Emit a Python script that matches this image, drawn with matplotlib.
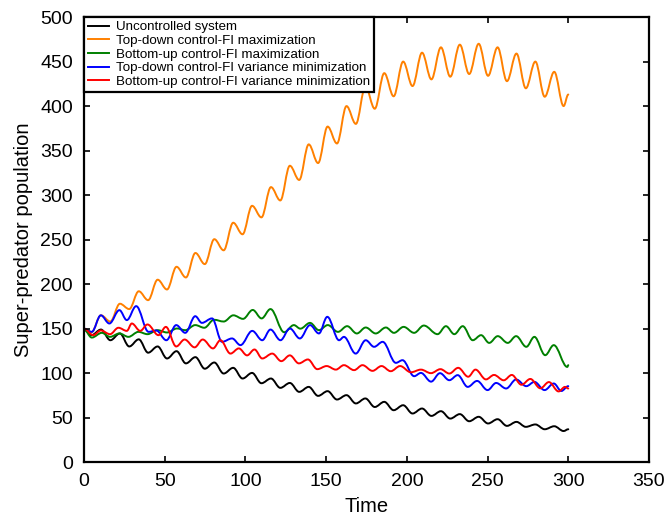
import matplotlib.pyplot as plt
from matplotlib.path import Path
from matplotlib.patches import PathPatch

# time points of the oscillation extrema (shared by the uncontrolled and top-down FI max runs)
t_osc = [0, 4.6, 10.5, 16.3, 22.2, 28, 33.9, 39.7, 45.6, 51.4, 57.3, 63.1, 69, 74.8,
         80.7, 86.5, 92.4, 98.2, 104.1, 109.9, 115.8, 121.6, 127.5, 133.3, 139.2, 145,
         150.9, 156.7, 162.6, 168.4, 174.3, 180.1, 186, 191.8, 197.7, 203.5, 209.4, 215.2,
         221.1, 226.9, 232.8, 238.6, 244.5, 250.3, 256.2, 262, 267.9, 273.7, 279.6, 285.4,
         291.3, 297.1, 300]

uncontrolled = [149, 142.7, 149, 137, 144.6, 130, 138, 123, 130, 116.5, 124.7, 111, 118, 105,
                112, 99.6, 106, 94, 100.3, 88.7, 94, 83.5, 89, 79, 84.6, 74.5,
                79.8, 70.4, 75.3, 66, 71.6, 62, 67.8, 58.4, 64, 54.7, 60.3, 52,
                57.3, 49, 54, 46, 51, 43.5, 48.3, 40.8, 45.3, 39.7, 42.4, 37,
                40.4, 35, 37]

topdown_fi_max = [149, 146, 165, 158, 178, 172, 192, 182, 205, 194, 219.5, 207.5, 235, 222.5,
                  250.5, 238, 269, 256, 288, 275, 309, 294, 333, 317, 357, 336,
                  377, 358, 400, 380, 422, 397, 437, 411, 450, 422.5, 460, 430,
                  466, 433, 469, 436, 470, 434, 466, 428, 459, 420, 450, 410.5,
                  438.5, 400, 413]

t_bu_max = [0, 4.8, 11, 16.1, 21.9, 27.5, 33.7, 39.3, 45.5, 51.4, 57.6, 62.7, 68.9, 74.5,
            80.5, 86.5, 92.5, 98.5, 104.5, 110, 115.5, 124, 130, 134, 140, 145.5, 151,
            157.3, 163, 169, 174.5, 180.7, 187, 192, 198, 204.5, 210.5, 219, 224.2, 229.4,
            234.6, 240.8, 246, 251, 256.3, 262.5, 267.7, 274, 279, 285.7, 291, 299.4, 300]
bottomup_fi_max = [149, 140, 145.3, 140.8, 144.6, 140.8, 146.4, 143.8, 148.3, 145.7, 150.2, 148.3, 154, 151,
                   160, 158, 165, 161, 171, 161.5, 172, 146, 154, 150, 156.5, 148.3, 154,
                   146.4, 152.8, 144.6, 151.3, 144.6, 151.3, 145.3, 152, 145.3, 153.5, 143.8, 152.8, 143.8,
                   152.8, 137, 142.7, 134, 141.6, 134, 141.6, 129.6, 140.8, 120.2, 131.5, 107, 109]

t_td_var = [0, 4.8, 10.4, 15.7, 21.9, 26.5, 32.3, 40, 44.7, 51, 57.1, 62.7, 68.9, 73, 79.3,
            85.5, 91.7, 96.9, 104.2, 110.4, 115.5, 121.7, 127.5, 133.7, 140, 145.5, 150.7,
            158, 161, 168.3, 174.5, 179.7, 185, 193.2, 197.3, 204.5, 208.7, 215, 220.5,
            226.3, 231.5, 237.7, 243.5, 250, 255.3, 261.5, 267.7, 274, 279, 285.3, 291,
            295.7, 300]
topdown_fi_var = [150, 146.4, 165, 155.8, 170.8, 159.6, 175.3, 146.4, 148, 137, 154, 145.3, 164, 156.5, 161.5,
                  135.2, 139, 131.5, 147.5, 137, 149, 137, 150.2, 139, 154, 144.6, 163.3,
                  137, 140.8, 122, 137, 129.6, 135.2, 111.6, 114.6, 96.6, 100.3, 90.5, 100,
                  92.1, 97.8, 84.6, 91.3, 81, 89, 82.8, 92.9, 85.4, 90.2, 81, 88.4,
                  80, 85.4]

t_bu_var = [0, 5.7, 10.4, 16.1, 21.3, 26.5, 29.6, 34.8, 39.3, 46.1, 50.7, 57.1, 62.3, 68.5,
            73.5, 79.9, 84.5, 90.7, 95.9, 101, 105.6, 110.4, 116.6, 122.2, 127.5, 133.1,
            138.7, 144.5, 150.3, 156, 161, 167.3, 172.5, 178.7, 184.3, 190, 195.8, 202.5,
            208.7, 214.9, 220.8, 226.3, 231.8, 238, 242.5, 249, 254, 260, 265, 271, 276.5,
            282.7, 288, 294, 298, 300]
bottomup_fi_var = [150, 142.7, 148, 143.8, 151, 147.5, 155.8, 147.5, 154.7, 142.7, 152, 130, 137.8, 129,
                   137.8, 127.8, 137, 122, 127.8, 120, 126.6, 116.5, 122, 113.5, 120, 111,
                   115.4, 104.5, 108, 104, 109, 103.4, 109, 102.6, 108, 102.2, 108, 101,
                   104, 100, 104.5, 99.6, 106, 96, 104, 93, 98, 92, 98, 87, 93.5,
                   83, 90, 79.5, 84.6, 82.8]

labels = ['Uncontrolled system',
          'Top-down control-FI maximization',
          'Bottom-up control-FI maximization',
          'Top-down control-FI variance minimization',
          'Bottom-up control-FI variance minimization']
colors = ['black', '#ff8000', '#008000', '#0000ff', '#ff0000']


def extrema_path(t, v, k=0.36):
    # smooth curve through successive extrema: flat tangent at each turning point
    verts = [(t[0], v[0])]
    codes = [Path.MOVETO]
    for i in range(len(t) - 1):
        dt = t[i + 1] - t[i]
        verts += [(t[i] + k * dt, v[i]), (t[i + 1] - k * dt, v[i + 1]), (t[i + 1], v[i + 1])]
        codes += [Path.CURVE4] * 3
    return Path(verts, codes)


plt.rcParams['font.family'] = ['Liberation Sans', 'DejaVu Sans']

fig = plt.figure(figsize=(6.67, 5.17), dpi=100)
ax = fig.add_axes([0.126, 0.106, 0.847, 0.861])

lw = 1.4
series = [(t_osc, uncontrolled), (t_osc, topdown_fi_max), (t_bu_max, bottomup_fi_max),
          (t_td_var, topdown_fi_var), (t_bu_var, bottomup_fi_var)]
for (t, v), c, lab in zip(series, colors, labels):
    ax.add_patch(PathPatch(extrema_path(t, v), fill=False, edgecolor=c, lw=lw,
                           joinstyle='round', capstyle='round'))
    ax.plot([], [], color=c, lw=lw, label=lab)

ax.set_xlim(0, 350)
ax.set_ylim(0, 500)
ax.set_xticks(range(0, 351, 50))
ax.set_yticks(range(0, 501, 50))
ax.tick_params(direction='in', length=4, width=1.2, labelsize=14,
               top=True, right=True, pad=8)
for s in ax.spines.values():
    s.set_linewidth(1.6)

ax.set_xlabel('Time', fontsize=14.5, labelpad=5)
ax.set_ylabel('Super-predator population', fontsize=14.5, labelpad=5)

leg = ax.legend(loc='upper left', borderaxespad=0, fontsize=9.6, handlelength=1.6,
                handletextpad=0.5, labelspacing=0.1, borderpad=0.3,
                fancybox=False, framealpha=1, edgecolor='black')
leg.get_frame().set_linewidth(1.6)

fig.savefig('out.png', dpi=100)
